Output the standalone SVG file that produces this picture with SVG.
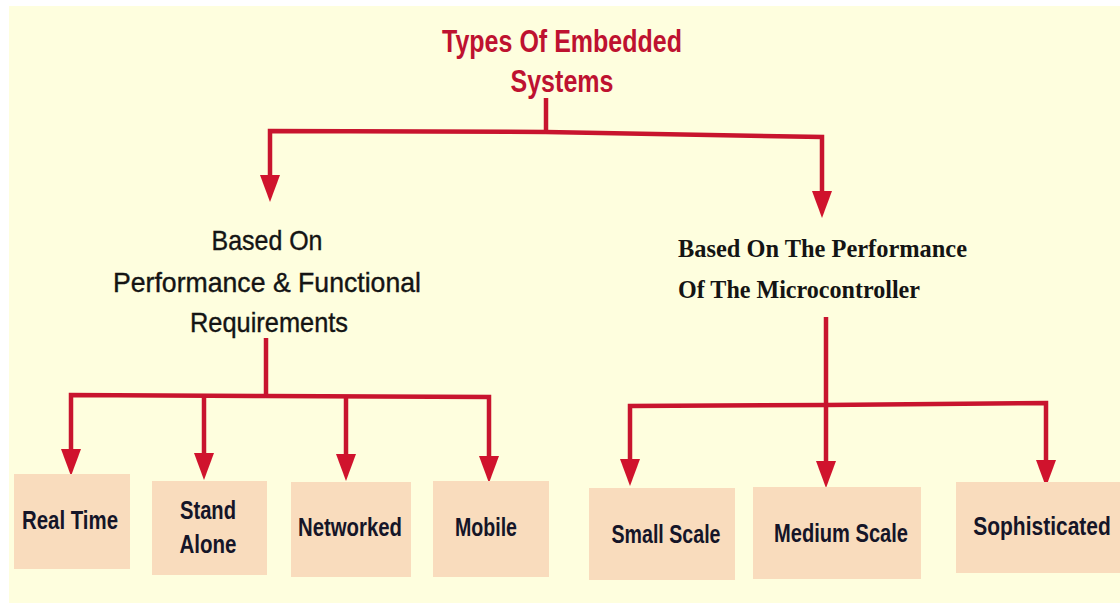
<svg xmlns="http://www.w3.org/2000/svg" width="1120" height="603" viewBox="0 0 1120 603">
<defs>
<style>
.bg{fill:#FEFEDE}
.box{fill:#F9DCBD}
.ln{fill:none;stroke:#C8142E;stroke-width:4.5;stroke-linejoin:miter}
.title{font-family:"Liberation Sans",Arial,sans-serif;font-weight:bold;font-size:32px;fill:#BE1230;text-anchor:middle}
.mid{font-family:"Liberation Sans",Arial,sans-serif;font-size:28px;fill:#141414;stroke:#141414;stroke-width:0.4;text-anchor:middle}
.serif{font-family:"Liberation Serif","Times New Roman",serif;font-weight:bold;font-size:25px;fill:#141414}
.leaf{font-family:"Liberation Sans",Arial,sans-serif;font-weight:bold;font-size:25px;fill:#151528;text-anchor:middle}
</style>
<marker id="ah" viewBox="0 0 27 20" refX="0" refY="10" markerWidth="27" markerHeight="20" markerUnits="userSpaceOnUse" orient="auto">
<path d="M0,0 L27,10 L0,20 z" fill="#D0132D"/>
</marker>
</defs>
<rect class="bg" x="9" y="6" width="1111" height="597"/>

<g id="connectors">
<path class="ln" d="M546,98 L546,132"/>
<path class="ln" d="M546,132 L270,131 L270,175" marker-end="url(#ah)"/>
<path class="ln" d="M546,132 L822,137 L822,191" marker-end="url(#ah)"/>
<path class="ln" d="M266,338 L266,396"/>
<path class="ln" d="M266,396 L71,395 L71,449" marker-end="url(#ah)"/>
<path class="ln" d="M204,396 L204,453" marker-end="url(#ah)"/>
<path class="ln" d="M346,396 L346,454" marker-end="url(#ah)"/>
<path class="ln" d="M266,396 L489,397 L489,456" marker-end="url(#ah)"/>
<path class="ln" d="M826,317 L826,461" marker-end="url(#ah)"/>
<path class="ln" d="M826,405 L630,406 L630,459" marker-end="url(#ah)"/>
<path class="ln" d="M826,405 L1046,403 L1046,460" marker-end="url(#ah)"/>
</g>

<g id="root">
<text class="title" x="562" y="52" textLength="240" lengthAdjust="spacingAndGlyphs">Types Of Embedded</text>
<text class="title" x="562" y="92" textLength="103" lengthAdjust="spacingAndGlyphs">Systems</text>
</g>

<g id="perf-func">
<text class="mid" x="267" y="250" textLength="111" lengthAdjust="spacingAndGlyphs">Based On</text>
<text class="mid" x="267" y="292" textLength="308" lengthAdjust="spacingAndGlyphs">Performance &amp; Functional</text>
<text class="mid" x="269" y="332" textLength="158" lengthAdjust="spacingAndGlyphs">Requirements</text>
</g>

<g id="micro">
<text class="serif" x="678" y="257" textLength="289" lengthAdjust="spacingAndGlyphs">Based On The Performance</text>
<text class="serif" x="678" y="298" textLength="242" lengthAdjust="spacingAndGlyphs">Of The Microcontroller</text>
</g>

<g id="real-time">
<rect class="box" x="14" y="474" width="116" height="95"/>
<text class="leaf" x="70" y="529" textLength="96" lengthAdjust="spacingAndGlyphs">Real Time</text>
</g>
<g id="stand-alone">
<rect class="box" x="152" y="481" width="115" height="94"/>
<text class="leaf" x="208" y="519" textLength="56" lengthAdjust="spacingAndGlyphs">Stand</text>
<text class="leaf" x="208" y="553" textLength="57" lengthAdjust="spacingAndGlyphs">Alone</text>
</g>
<g id="networked">
<rect class="box" x="291" y="482" width="120" height="95"/>
<text class="leaf" x="350" y="536" textLength="104" lengthAdjust="spacingAndGlyphs">Networked</text>
</g>
<g id="mobile">
<rect class="box" x="433" y="481" width="116" height="96"/>
<text class="leaf" x="486" y="536" textLength="62" lengthAdjust="spacingAndGlyphs">Mobile</text>
</g>
<g id="small-scale">
<rect class="box" x="589" y="488" width="146" height="92"/>
<text class="leaf" x="666" y="543" textLength="109" lengthAdjust="spacingAndGlyphs">Small Scale</text>
</g>
<g id="medium-scale">
<rect class="box" x="753" y="487" width="168" height="92"/>
<text class="leaf" x="841" y="542" textLength="134" lengthAdjust="spacingAndGlyphs">Medium Scale</text>
</g>
<g id="sophisticated">
<rect class="box" x="956" y="482" width="164" height="91"/>
<text class="leaf" transform="translate(1042,535) scale(0.84,1)" x="0" y="0">Sophisticated</text>
</g>
</svg>
